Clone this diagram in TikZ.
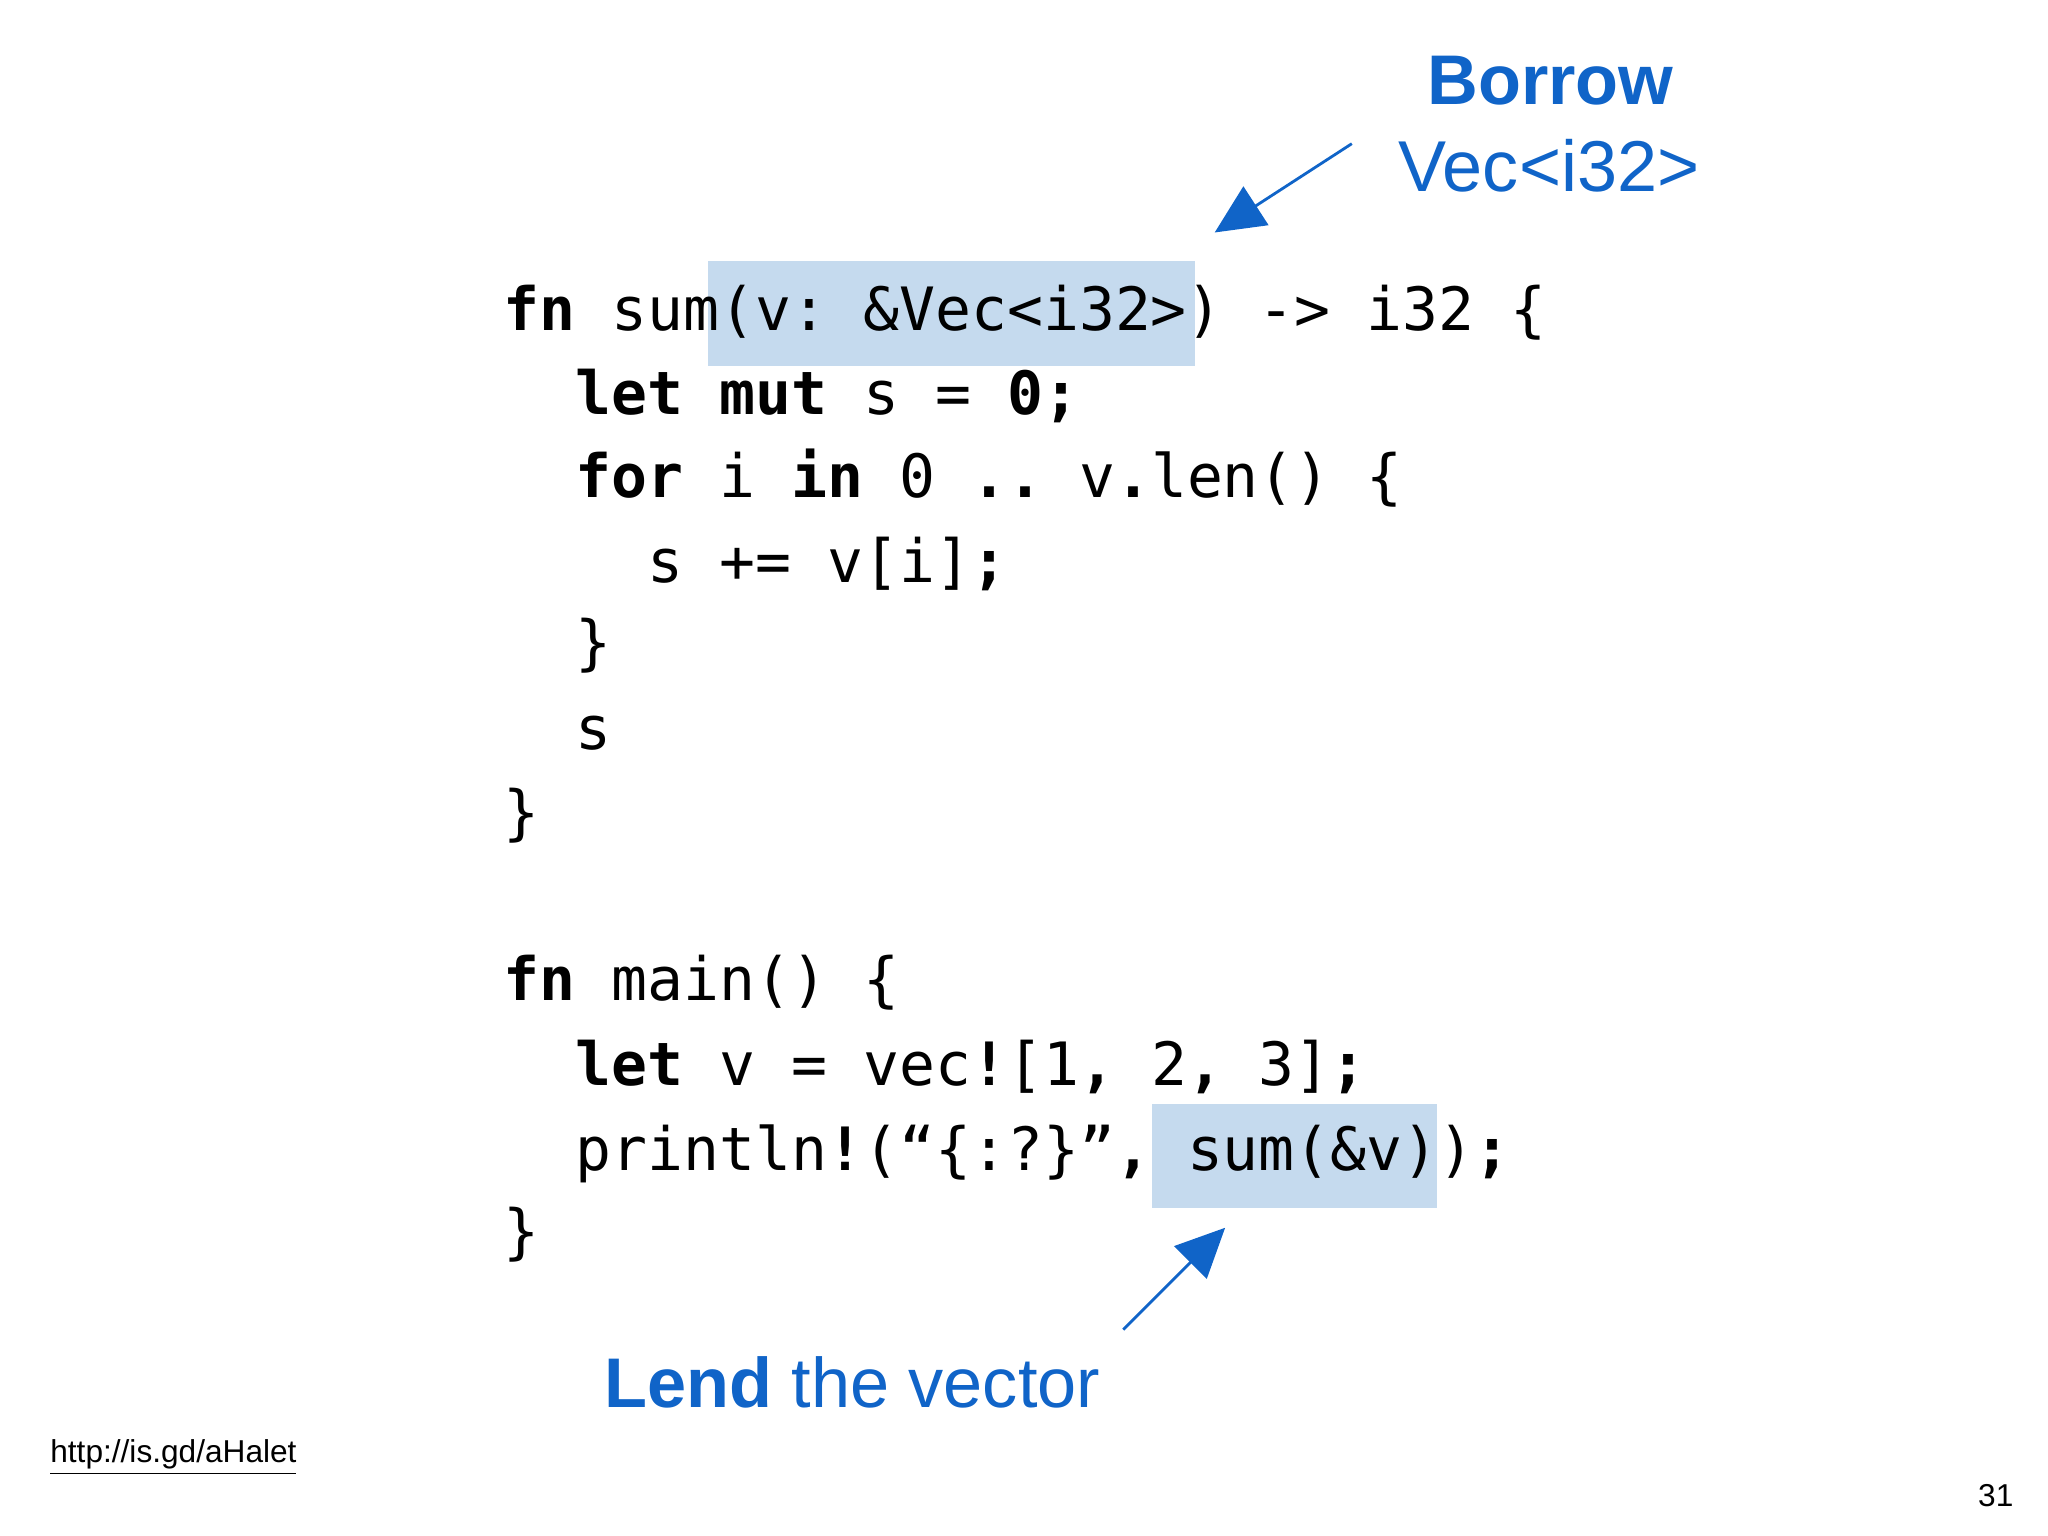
\documentclass[tikz,border=0pt]{standalone}
\usepackage{fontspec}
\setmainfont{Liberation Sans}
\setmonofont{DejaVu Sans Mono}
\usetikzlibrary{arrows.meta}
\definecolor{hl}{RGB}{197,218,238}
\definecolor{bl}{RGB}{16,100,200}
\newcommand{\kb}[1]{\textbf{#1}}
\tikzset{code/.style={anchor=base west,inner sep=0pt,font=\ttfamily\fontsize{17}{20}\selectfont},
lbl/.style={text=bl,inner sep=0pt},
arr/.style={draw=bl,line width=0.8pt,-{Triangle[length=14pt,width=13pt]}}}
\begin{document}
\begin{tikzpicture}[x=0.01306cm,y=-0.01306cm]
\useasboundingbox (0,0) rectangle (1568,1176);
\fill[hl] (542,200) rectangle (915,280);
\fill[hl] (882,845) rectangle (1100,925);
\node[code] (l1) at (385,253) {\kb{fn} sum(v: \&Vec<i32>) -> i32 \{};
\node[code] (l2) at (385,317) {\ \ \kb{let mut} s = \kb{0;}};
\node[code] (l3) at (385,381) {\ \ \kb{for} i \kb{in} 0 \kb{..} v\kb{.}len() \{};
\node[code] (l4) at (385,446) {\ \ \ \ s += v[i]\kb{;}};
\node[code] (l5) at (385,508) {\ \ \}};
\node[code] (l6) at (385,574) {\ \ s};
\node[code] (l7) at (385,638) {\}};
\node[code] (l8) at (385,766) {\kb{fn} main() \{};
\node[code] (l9) at (385,831) {\ \ \kb{let} v = vec\kb{!}[1\kb{,} 2\kb{,} 3]\kb{;}};
\node[code] (l10) at (385,896) {\ \ println\kb{!}(“\{:?\}”\kb{,} sum(\&v))\kb{;}};
\node[code] (l11) at (385,959) {\}};
\node[lbl,font=\fontsize{20}{24}\selectfont\bfseries] (borrow) at (1187,62) {Borrow};
\node[lbl,font=\fontsize{20.5}{24}\selectfont] (vec) at (1186,127) {Vec<i32>};
\node[lbl,font=\fontsize{20}{24}\selectfont,anchor=west] (lend) at (462,1058) {\textbf{Lend} the vector};
\coordinate (a1s) at (1035,110); \coordinate (a1e) at (930,178);
\coordinate (a2s) at (860,1018); \coordinate (a2e) at (938,940);
\draw[arr] (a1s) -- (a1e);
\draw[arr] (a2s) -- (a2e);
\node[anchor=west,inner sep=0pt,font=\fontsize{9}{11}\selectfont] (url) at (38,1116) {\underline{http://is.gd/aHalet}};
\node[anchor=east,inner sep=0pt,font=\fontsize{9}{11}\selectfont] (pg) at (1542,1145) {31};
\end{tikzpicture}
\end{document}
